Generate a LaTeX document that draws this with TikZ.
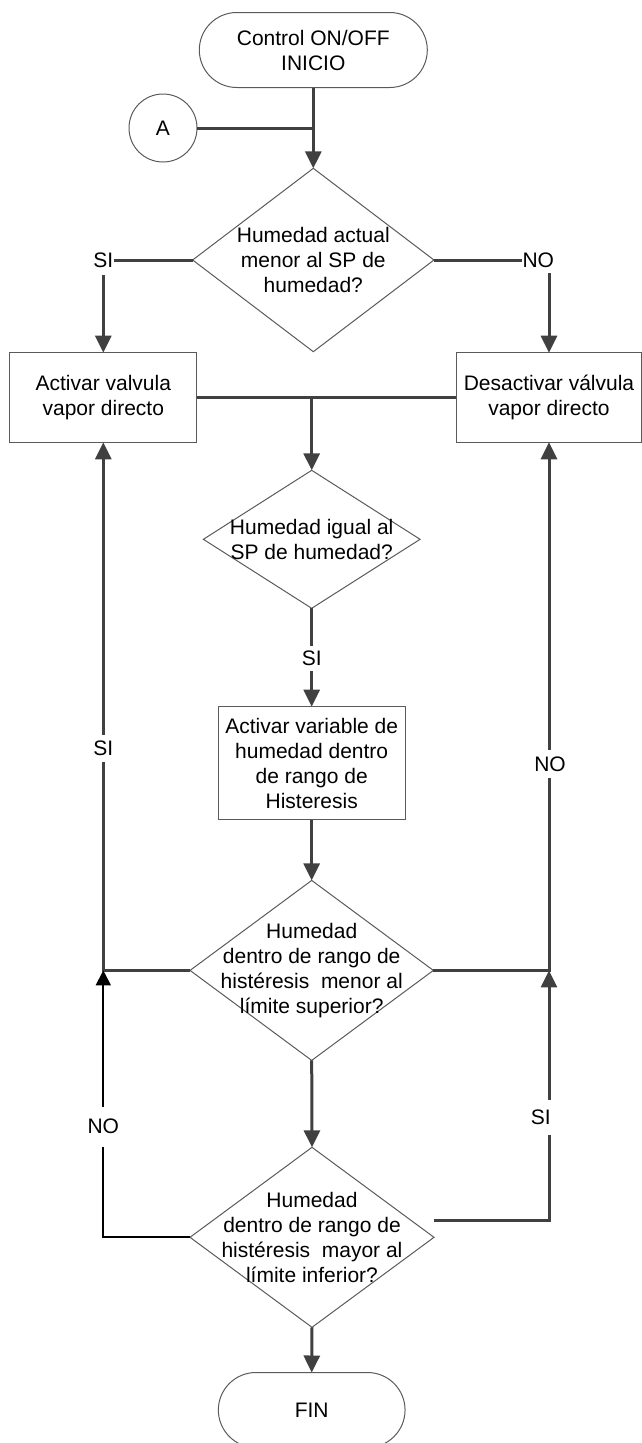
\documentclass[tikz,border=0pt]{standalone}
\usepackage{fontspec}
\setmainfont{Liberation Sans}
\usetikzlibrary{shapes.geometric,arrows.meta}
\newcommand\flowfont{\fontsize{21}{25}\selectfont}
\definecolor{linegray}{HTML}{404040}
\definecolor{edgegray}{HTML}{5A5A5A}

\begin{document}
\begin{tikzpicture}[x=1pt,y=-1pt,
  shapeline/.style={draw=edgegray, line width=1pt, outer sep=0pt},
  terminal/.style={shapeline, rectangle, rounded corners=37.5pt, minimum height=75pt, font=\flowfont, align=center},
  procbox/.style={shapeline, rectangle, font=\flowfont, align=center, inner sep=2pt},
  decision/.style={shapeline, diamond, inner sep=0pt},
  dtext/.style={font=\flowfont, align=center},
  conn/.style={draw=linegray, line width=3pt},
  arrowconn/.style={conn, -{Triangle[length=17pt,width=16pt]}},
  backconn/.style={draw=black, line width=2pt, -{Triangle[length=15pt,width=15pt]}},
  lbl/.style={fill=white, font=\flowfont, inner xsep=1pt, inner ysep=5.5pt},
]
\useasboundingbox (0,0) rectangle (642,1443);

% start, connector circle and end
\node[terminal, minimum width=228pt] (start) at (313.3,50) {Control ON/OFF\\INICIO};
\node[shapeline, circle, minimum size=68pt, inner sep=0pt, font=\flowfont] (A) at (163,128) {A};
\node[terminal, minimum width=186.7pt] (fin) at (311.7,1410) {FIN};

% decisions
\node[decision, minimum width=241.3pt, minimum height=183.4pt,
  label={[dtext]center:{Humedad actual\\menor al SP de\\humedad?}}] (d1) at (313.3,260) {};
\node[decision, minimum width=216.7pt, minimum height=138pt,
  label={[dtext]center:{Humedad igual al\\SP de humedad?}}] (d2) at (311.7,539.3) {};
\node[decision, minimum width=243.3pt, minimum height=180pt,
  label={[dtext]center:{Humedad\\dentro de rango de\\histéresis~ menor al\\límite superior?}}] (d3) at (311.7,970.4) {};
\node[decision, minimum width=244pt, minimum height=180pt,
  label={[dtext]center:{Humedad\\dentro de rango de\\histéresis~ mayor al\\límite inferior?}}] (d4) at (312,1237.3) {};

% processes
\node[procbox, minimum width=186.7pt, minimum height=89.6pt] (box1) at (103.3,397.5) {Activar valvula\\vapor directo};
\node[procbox, minimum width=185.4pt, minimum height=89.6pt] (box2) at (549,397.5) {Desactivar válvula\\vapor directo};
\node[procbox, minimum width=186.7pt, minimum height=113.3pt] (box3) at (311.7,763.3) {Activar variable de\\humedad dentro\\de rango de\\Histeresis};

% connectors
\draw[arrowconn] (start.south) -- (d1.north);
\draw[conn] (A.east) -- (A.east -| start.south);
\draw[arrowconn] (d1.west) -| (box1.north);
\draw[arrowconn] (d1.east) -| (box2.north);
\draw[conn] (box1.east) -- (box2.west);
\draw[arrowconn] (box1.east -| d2.north) -- (d2.north);
\draw[arrowconn] (d2.south) -- (box3.north);
\draw[arrowconn] (box3.south) -- (d3.north);
\draw[arrowconn] (d3.west) -| (box1.south);
\draw[arrowconn] (d3.east) -| (box2.south);
\draw[arrowconn] (d3.south) -- (d4.north);
\draw[arrowconn] (d4.south) -- (fin.north);
\draw[backconn] (d4.west) -| (box1.south |- d3.west);
\draw[arrowconn] ([yshift=16.6pt]d4.east) -| (box2.south |- d3.east);

% branch labels
\node[lbl, inner ysep=7.5pt, inner xsep=0.5pt] (siA) at (103.3,260) {SI};
\node[lbl] (noA) at (538.3,260) {NO};
\node[lbl, inner ysep=5pt] (siB) at (311.7,658.3) {SI};
\node[lbl, inner ysep=5.8pt] (siC) at (103.3,748.3) {SI};
\node[lbl, inner ysep=6.5pt] (noC) at (550,764) {NO};
\node[lbl, inner ysep=12.5pt] (noD) at (103.3,1126.7) {NO};
\node[lbl, inner ysep=10pt] (siD) at (540.7,1117.5) {SI};
\end{tikzpicture}
\end{document}
